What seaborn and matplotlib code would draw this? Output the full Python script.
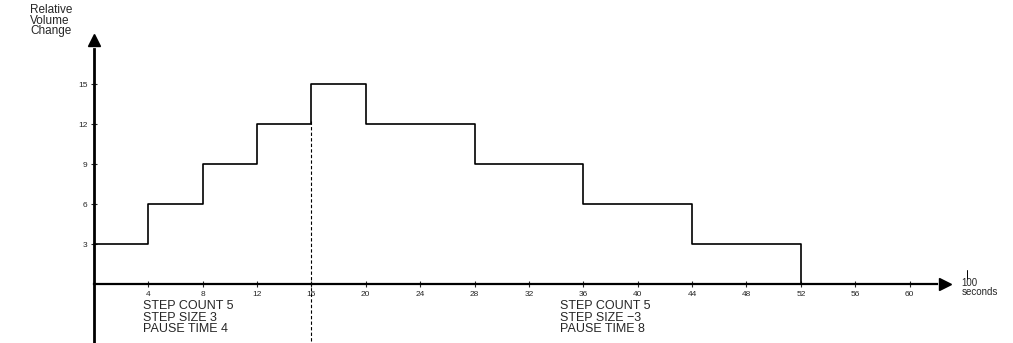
import numpy as np
import pandas as pd
import seaborn as sns
import matplotlib
matplotlib.use('Agg')
import matplotlib.pyplot as plt

# step profile
seconds = [0, 4, 8, 12, 16, 20, 28, 36, 44, 52]
volume = [3, 6, 9, 12, 15, 12, 9, 6, 3, 0]
x_ticks = [4, 8, 12, 16, 20, 24, 28, 32, 36, 40, 44, 48, 52, 56, 60]
y_ticks = [3, 6, 9, 12, 15]
note_left = ['STEP COUNT 5', 'STEP SIZE 3', 'PAUSE TIME 4']
note_right = ['STEP COUNT 5', 'STEP SIZE \u22123', 'PAUSE TIME 8']

sns.set_style('white')
plt.rcParams['font.family'] = ['Liberation Sans', 'DejaVu Sans']

df = pd.DataFrame({'t': seconds, 'v': volume})

fig = plt.figure(figsize=(10.13, 3.43), dpi=100)
ax = fig.add_axes([0, 0, 1, 1])
sns.lineplot(data=df, x='t', y='v', drawstyle='steps-post', color='black',
             linewidth=1.2, ax=ax)

ax.set_xlim(-6.9, 67.6)
ax.set_ylim(-4.4, 21.3)

# axes drawn through the origin
for s in ['top', 'right']:
    ax.spines[s].set_visible(False)
ax.spines['left'].set_position(('data', 0))
ax.spines['bottom'].set_position(('data', 0))
ax.spines['left'].set_bounds(-4.4, 17.6)
ax.spines['bottom'].set_bounds(0, 62)
ax.spines['left'].set_linewidth(2)
ax.spines['bottom'].set_linewidth(1.6)
ax.spines['left'].set_color('black')
ax.spines['bottom'].set_color('black')

# arrow heads
ax.plot(62.6, 0, marker='>', color='black', markersize=9, clip_on=False)
ax.plot(0, 18.3, marker='^', color='black', markersize=8, clip_on=False)

ax.set_xticks(x_ticks)
ax.set_xticklabels([str(t) for t in x_ticks], fontsize=6)
ax.set_yticks(y_ticks)
ax.set_yticklabels([str(t) for t in y_ticks], fontsize=6)
ax.tick_params(axis='x', direction='inout', length=5, width=0.8, pad=2,
               bottom=True)
ax.tick_params(axis='y', direction='inout', length=5, width=0.8, pad=2,
               left=True)
ax.set_xlabel('')
ax.set_ylabel('')

# dashed marker at the top of the climb
ax.plot([16, 16], [12.2, -4.4], color='black', linewidth=0.8,
        linestyle=(0, (3, 2)))

ax.text(-4.7, 21.0, 'Relative\nVolume\nChange', fontsize=8.5, va='top',
        ha='left', linespacing=0.85)
ax.text(63.8, 0.5, '100\nseconds', fontsize=7, va='top', ha='left',
        linespacing=0.9)
ax.plot([64.2, 64.2], [0.4, 1.1], color='black', linewidth=0.7)

ax.text(3.6, -1.2, '\n'.join(note_left), fontsize=9, va='top', ha='left',
        linespacing=0.95)
ax.text(34.3, -1.2, '\n'.join(note_right), fontsize=9, va='top', ha='left',
        linespacing=0.95)

fig.savefig('out.png', dpi=100)
